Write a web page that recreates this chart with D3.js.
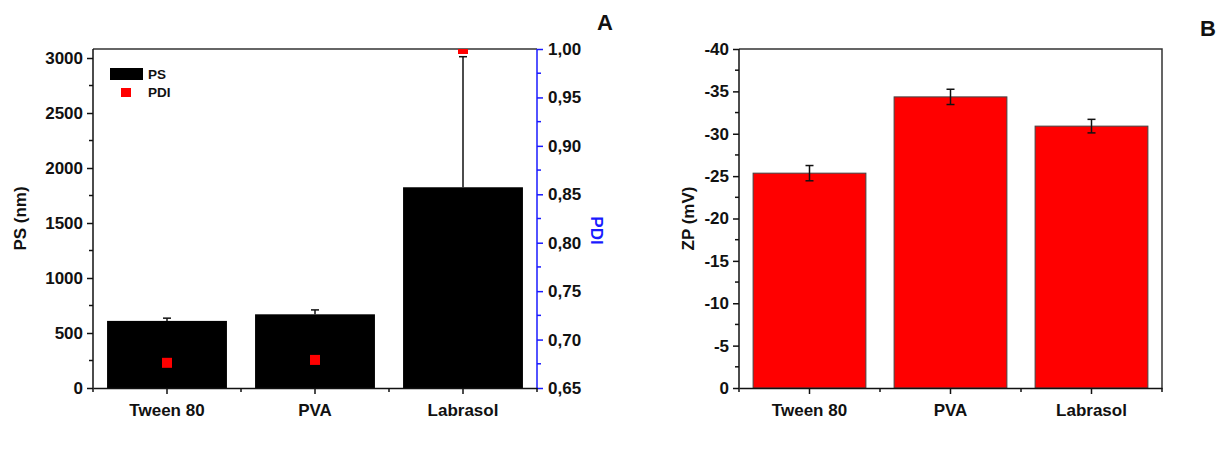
<!DOCTYPE html>
<html>
<head>
<meta charset="utf-8">
<script src="https://cdn.jsdelivr.net/npm/d3@7"></script>
<style>
  body { margin: 0; background: #fff; }
  svg text { font-family: "Liberation Sans", Arial, sans-serif; font-weight: bold; }
</style>
</head>
<body>
<div id="chart"></div>
<script>
// Formulations (shared by both panels)
const categories = ["Tween 80", "PVA", "Labrasol"];

// Panel A: particle size (nm) and polydispersity index
const psValues = [610, 670, 1825];
const psErrors = [25, 40, 1187];
const pdiValues = [0.676, 0.679, 1.0];

// Panel B: zeta potential (shown as magnitude, labelled negative)
const zpValues = [25.35, 34.35, 30.9];
const zpErrors = [0.9, 0.9, 0.8];

const psTicks = [0, 500, 1000, 1500, 2000, 2500, 3000];
const pdiTicks = [0.65, 0.70, 0.75, 0.80, 0.85, 0.90, 0.95, 1.00];
const zpTicks = [0, 5, 10, 15, 20, 25, 30, 35, 40];

const width = 1232;
const height = 461;

const svg = d3.select('#chart')
  .append('svg')
    .attr('width', width)
    .attr('height', height)
    .attr('viewBox', [0, 0, width, height]);

const plotTop = 49;
const plotBottom = 388;

// helper for minor ticks on a y axis
function minorY(g, scale, values, x, dir, color) {
  g.selectAll(null)
    .data(values)
    .join('line')
      .attr('x1', x)
      .attr('x2', x + dir * 4)
      .attr('y1', d => scale(d))
      .attr('y2', d => scale(d))
      .attr('stroke', color)
      .attr('stroke-width', 1.5);
}

function styleAxis(g, color) {
  g.selectAll('.domain').attr('stroke', color).attr('stroke-width', 1.5);
  g.selectAll('.tick line').attr('stroke', color).attr('stroke-width', 1.5);
  g.selectAll('.tick text').attr('fill', '#111').attr('font-size', 17);
}

// x axis with minor ticks on the category boundaries
function xAxis(g, x, y0) {
  const step = x.step();
  const ax = g.append('g')
      .attr('transform', `translate(0,${y0})`)
      .call(d3.axisBottom(x).tickSize(6).tickSizeOuter(0).tickPadding(8));
  styleAxis(ax, '#111');
  ax.selectAll('.tick text').attr('dy', '0.85em');
  const centers = categories.map(c => x(c) + x.bandwidth() / 2);
  const minors = [centers[0] - step / 2].concat(centers.map(c => c + step / 2));
  g.selectAll(null)
    .data(minors)
    .join('line')
      .attr('x1', d => d).attr('x2', d => d)
      .attr('y1', y0).attr('y2', y0 + 4)
      .attr('stroke', '#111').attr('stroke-width', 1.5);
}

// ---------------- Panel A ----------------
const gA = svg.append('g');
const aLeft = 93, aRight = 537;

const xA = d3.scaleBand()
    .domain(categories)
    .range([aLeft, aRight])
    .paddingInner(0.19)
    .paddingOuter(0.095);

const yPS = d3.scaleLinear()
    .domain([0, 3082])
    .range([plotBottom, plotTop]);

const yPDI = d3.scaleLinear()
    .domain([0.65, 1.0])
    .range([plotBottom, plotTop]);

svg.append('clipPath')
    .attr('id', 'clipA')
  .append('rect')
    .attr('x', aLeft)
    .attr('y', plotTop)
    .attr('width', aRight - aLeft)
    .attr('height', plotBottom - plotTop);

// top frame line
gA.append('line')
    .attr('x1', aLeft).attr('x2', aRight)
    .attr('y1', plotTop).attr('y2', plotTop)
    .attr('stroke', '#333').attr('stroke-width', 1.5);

// error bars (upper only)
const errA = gA.selectAll('.err-a')
  .data(categories)
  .join('g')
    .attr('class', 'err-a');
errA.append('line')
    .attr('x1', d => xA(d) + xA.bandwidth() / 2)
    .attr('x2', d => xA(d) + xA.bandwidth() / 2)
    .attr('y1', (d, i) => yPS(psValues[i]))
    .attr('y2', (d, i) => yPS(psValues[i] + psErrors[i]))
    .attr('stroke', '#111').attr('stroke-width', 1.5);
errA.append('line')
    .attr('x1', d => xA(d) + xA.bandwidth() / 2 - 4)
    .attr('x2', d => xA(d) + xA.bandwidth() / 2 + 4)
    .attr('y1', (d, i) => yPS(psValues[i] + psErrors[i]))
    .attr('y2', (d, i) => yPS(psValues[i] + psErrors[i]))
    .attr('stroke', '#111').attr('stroke-width', 1.5);

// PS bars
gA.selectAll('.bar-ps')
  .data(categories)
  .join('rect')
    .attr('class', 'bar-ps')
    .attr('x', d => xA(d))
    .attr('y', (d, i) => yPS(psValues[i]))
    .attr('width', xA.bandwidth())
    .attr('height', (d, i) => yPS(0) - yPS(psValues[i]))
    .attr('fill', '#000');

// PDI markers
gA.append('g')
    .attr('clip-path', 'url(#clipA)')
  .selectAll('rect')
  .data(categories)
  .join('rect')
    .attr('x', d => xA(d) + xA.bandwidth() / 2 - 5)
    .attr('y', (d, i) => yPDI(pdiValues[i]) - 5)
    .attr('width', 10)
    .attr('height', 10)
    .attr('fill', '#ff0000');

// left axis
const axL = gA.append('g')
    .attr('transform', `translate(${aLeft},0)`)
    .call(d3.axisLeft(yPS)
      .tickValues(psTicks)
      .tickSize(6)
      .tickSizeOuter(0)
      .tickPadding(4)
      .tickFormat(d3.format('d')));
styleAxis(axL, '#111');
axL.select('.domain').attr('d', `M0,${plotBottom}V${plotTop}`);
minorY(gA, yPS, [250, 750, 1250, 1750, 2250, 2750], aLeft, -1, '#111');

// right axis (PDI)
const blue = '#1a1aff';
const axR = gA.append('g')
    .attr('transform', `translate(${aRight},0)`)
    .call(d3.axisRight(yPDI)
      .tickValues(pdiTicks)
      .tickSize(6)
      .tickSizeOuter(0)
      .tickPadding(5)
      .tickFormat(d => d3.format('.2f')(d).replace('.', ',')));
styleAxis(axR, blue);
axR.select('.domain').attr('d', `M0,${plotBottom}V${plotTop}`);
minorY(gA, yPDI, [0.675, 0.725, 0.775, 0.825, 0.875, 0.925, 0.975], aRight, 1, blue);

xAxis(gA, xA, plotBottom);

// axis titles
gA.append('text')
    .attr('transform', `translate(26,${(plotTop + plotBottom) / 2}) rotate(-90)`)
    .attr('text-anchor', 'middle')
    .attr('font-size', 17)
    .attr('fill', '#111')
    .text('PS (nm)');
gA.append('text')
    .attr('transform', `translate(591,${(plotTop + plotBottom) / 2 + 12}) rotate(90)`)
    .attr('text-anchor', 'middle')
    .attr('font-size', 17)
    .attr('fill', blue)
    .text('PDI');
gA.append('text')
    .attr('x', 597)
    .attr('y', 30)
    .attr('font-size', 22)
    .attr('fill', '#111')
    .text('A');

// legend
gA.append('rect')
    .attr('x', 110).attr('y', 68)
    .attr('width', 33).attr('height', 12)
    .attr('fill', '#000');
gA.append('text')
    .attr('x', 148).attr('y', 79)
    .attr('font-size', 13.5)
    .attr('fill', '#111')
    .text('PS');
gA.append('rect')
    .attr('x', 121).attr('y', 88)
    .attr('width', 10).attr('height', 9)
    .attr('fill', '#ff0000');
gA.append('text')
    .attr('x', 148).attr('y', 97)
    .attr('font-size', 13.5)
    .attr('fill', '#111')
    .text('PDI');

// ---------------- Panel B ----------------
const gB = svg.append('g');
const bLeft = 739, bRight = 1162;

const xB = d3.scaleBand()
    .domain(categories)
    .range([bLeft, bRight])
    .paddingInner(0.2)
    .paddingOuter(0.1);

const yZP = d3.scaleLinear()
    .domain([0, 40])
    .range([plotBottom, plotTop]);

// frame (top and right)
gB.append('path')
    .attr('d', `M${bLeft},${plotTop}H${bRight}V${plotBottom}`)
    .attr('fill', 'none')
    .attr('stroke', '#333')
    .attr('stroke-width', 1.5);

gB.selectAll('.bar-zp')
  .data(categories)
  .join('rect')
    .attr('class', 'bar-zp')
    .attr('x', d => xB(d))
    .attr('y', (d, i) => yZP(zpValues[i]))
    .attr('width', xB.bandwidth())
    .attr('height', (d, i) => yZP(0) - yZP(zpValues[i]))
    .attr('fill', '#ff0000')
    .attr('stroke', '#444')
    .attr('stroke-width', 1);

// error bars (both directions)
const errB = gB.selectAll('.err-b')
  .data(categories)
  .join('g')
    .attr('class', 'err-b');
const cxB = d => xB(d) + xB.bandwidth() / 2;
errB.append('line')
    .attr('x1', cxB).attr('x2', cxB)
    .attr('y1', (d, i) => yZP(zpValues[i] - zpErrors[i]))
    .attr('y2', (d, i) => yZP(zpValues[i] + zpErrors[i]))
    .attr('stroke', '#111').attr('stroke-width', 1.5);
[-1, 1].forEach(s => {
  errB.append('line')
      .attr('x1', d => cxB(d) - 4).attr('x2', d => cxB(d) + 4)
      .attr('y1', (d, i) => yZP(zpValues[i] + s * zpErrors[i]))
      .attr('y2', (d, i) => yZP(zpValues[i] + s * zpErrors[i]))
      .attr('stroke', '#111').attr('stroke-width', 1.5);
});

const axZ = gB.append('g')
    .attr('transform', `translate(${bLeft},0)`)
    .call(d3.axisLeft(yZP)
      .tickValues(zpTicks)
      .tickSize(6)
      .tickSizeOuter(0)
      .tickPadding(4)
      .tickFormat(d => d === 0 ? '0' : '-' + d));
styleAxis(axZ, '#111');
axZ.select('.domain').attr('d', `M0,${plotBottom}V${plotTop}`);
minorY(gB, yZP, [2.5, 7.5, 12.5, 17.5, 22.5, 27.5, 32.5, 37.5], bLeft, -1, '#111');

xAxis(gB, xB, plotBottom);

gB.append('text')
    .attr('transform', `translate(694,${(plotTop + plotBottom) / 2}) rotate(-90)`)
    .attr('text-anchor', 'middle')
    .attr('font-size', 17)
    .attr('fill', '#111')
    .text('ZP (mV)');
gB.append('text')
    .attr('x', 1200)
    .attr('y', 36)
    .attr('font-size', 22)
    .attr('fill', '#111')
    .text('B');
</script>
</body>
</html>
